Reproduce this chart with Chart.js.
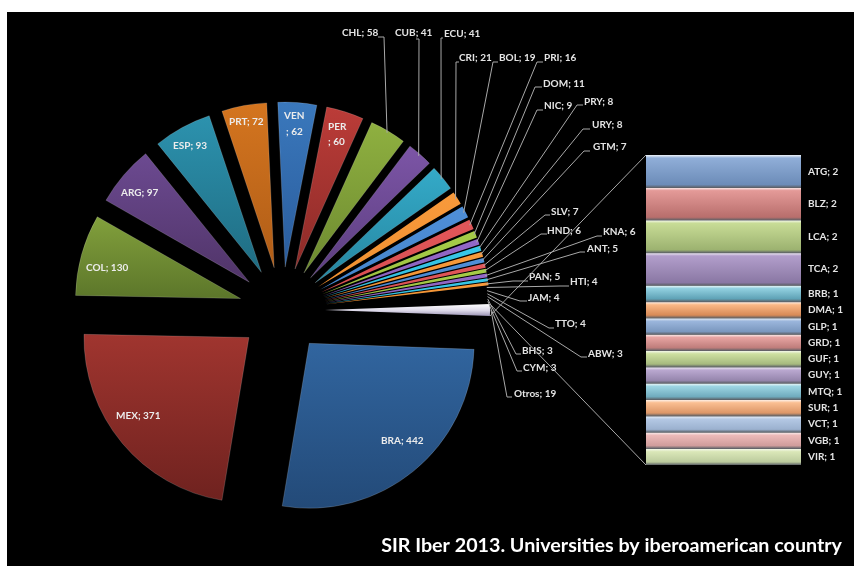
<!DOCTYPE html>
<html><head><meta charset="utf-8">
<script src="https://cdn.jsdelivr.net/npm/chart.js@4"></script>
<style>
html,body{margin:0;padding:0;background:#fff;width:854px;height:566px;overflow:hidden}
#bg{position:absolute;left:7px;top:12px;width:847px;height:554px;background:#000}
canvas{position:absolute;left:0;top:0;filter:blur(0.35px)}
</style></head><body>
<div id="bg"></div>
<canvas id="pie" width="854" height="566"></canvas>
<canvas id="bar" width="854" height="566"></canvas>
<script>
// ---- data ----
const pieCodes = ["BRA","MEX","COL","ARG","ESP","PRT","VEN","PER","CHL","CUB","ECU","CRI","BOL","PRI","DOM","NIC","PRY","URY","GTM","SLV","HND","KNA","ANT","PAN","HTI","JAM","TTO","ABW","BHS","CYM","Otros"];
const pieValues = [442,371,130,97,93,72,62,60,58,41,41,21,19,16,11,9,8,8,7,7,6,6,5,5,4,4,4,3,3,3,19];
const otherCodes = ["ATG","BLZ","LCA","TCA","BRB","DMA","GLP","GRD","GUF","GUY","MTQ","SUR","VCT","VGB","VIR"];
const otherValues = [2,2,2,2,1,1,1,1,1,1,1,1,1,1,1];
const titleText = "SIR Iber 2013. Universities by iberoamerican country";

// ---- styles / layout ----
const palette = [["#31659f","#234a78"],["#a0352f","#6f221f"],["#82a03c","#5c762a"],["#6c4a91","#503468"],["#2c92ae","#1f6c82"],["#d4751f","#b05d17"]];
const midPalette = [["#3a78bc","#2a5c9c"],["#bb3c38","#8c2b28"],["#8fb040","#6d8a30"],["#7c55a6","#5c3e80"],["#34aac8","#2686a0"],["#f08a2c","#d0701c"]];
const thinPalette = [["#4f8fd8","#4585cc"],["#e2575a","#d84e50"],["#a6cc48","#9cc040"],["#9368c8","#8a60bc"],["#38c8e8","#30bcdc"],["#f89a3c","#f09030"]];
const lightPalette = [["#90aed8","#6c8cb8"],["#e49a98","#b86e6c"],["#c8dc96","#9cb270"],["#b29ecb","#8a78a4"],["#92d0e0","#5fa2b6"],["#f9b886","#d88a56"]];
const invisibleFrom = 24, invisibleTo = 29; // thin slices that the reference renders as nothing
const leaderTextColor = "#e4e4e4", lineColor = "#a8a8a8";
const labelFont = "bold 10px Lato";
const EXPLODE = 43, RADIUS = 165;
// inside labels: index -> lines [x, y, text]
const insideLabels = {
  0:[[381,441,"BRA; 442"]],1:[[116,416,"MEX; 371"]],2:[[86,268,"COL; 130"]],3:[[121,193,"ARG; 97"]],
  4:[[173,146,"ESP; 93"]],5:[[229,122,"PRT; 72"]],6:[[284,116,"VEN"],[286,132,"; 62"]],7:[[328,127,"PER"],[328,142,"; 60"]]
};
// outside labels: code -> [text x, text y, elbow x1, elbow x2, elbow y]
const outsideLabels = {
  CHL:[342,33,378,384,37],CUB:[395,33,416,419,39],ECU:[444,34,443,441,38],CRI:[459,58,459,456,62],
  BOL:[499,58,498,493,62],PRI:[544,58,543,537,62],DOM:[543,84,542,535,87],NIC:[544,106,543,537,110],
  PRY:[584,102,583,577,105],URY:[592,125,590,583,129],GTM:[593,147,590,584,151],SLV:[551,212,550,545,215],
  HND:[547,231,547,541,234],KNA:[603,232,602,597,236],ANT:[587,249,585,580,252],PAN:[529,277,528,513,281],
  HTI:[570,282,569,560,286],JAM:[528,298,527,520,301],TTO:[555,324,554,549,328],ABW:[588,354,587,581,357],
  BHS:[522,351,521,516,354],CYM:[523,368,522,517,371],Otros:[514,394,512,507,397]
};

function sliceGeom(i){
  const total=pieValues.reduce((a,b)=>a+b,0);
  const otrosHalf=pieValues[pieValues.length-1]/total*Math.PI;
  let s=otrosHalf; for(let k=0;k<i;k++) s+=pieValues[k]/total*2*Math.PI;
  return [s,s+pieValues[i]/total*2*Math.PI];
}
function tierColors(i){
  const t=i<6?palette:(i<11?midPalette:thinPalette);
  return t[i%6];
}
function sliceGradient(ctx,stops){
  const {chart,dataIndex:i}=ctx;
  const a=chart.chartArea; if(!a) return stops[0][1];
  const cy=(a.top+a.bottom)/2;
  const [s,e]=sliceGeom(i), m=(s+e)/2;
  const ax=cy+Math.sin(m)*EXPLODE;
  let ys=[ax,ax+Math.sin(s)*RADIUS,ax+Math.sin(e)*RADIUS];
  if(s<Math.PI/2&&e>Math.PI/2) ys.push(ax+RADIUS);
  if(s<1.5*Math.PI&&e>1.5*Math.PI) ys.push(ax-RADIUS);
  const g=chart.ctx.createLinearGradient(0,Math.min(...ys),0,Math.max(...ys));
  stops.forEach(st=>g.addColorStop(st[0],st[1]));
  return g;
}
function isHidden(i){return i>=invisibleFrom&&i<=invisibleTo;}
function fillFor(c){
  const i=c.dataIndex;
  if(isHidden(i)) return "rgba(0,0,0,0)";
  if(i===pieValues.length-1) return sliceGradient(c,[[0,"#ffffff"],[0.55,"#dcd8e8"],[1,"#9a92b4"]]);
  const p=tierColors(i);
  return sliceGradient(c,[[0,p[0]],[1,p[1]]]);
}

const pieLabelPlugin={
  id:'pieLabels',
  afterDatasetsUpdate(chart){
    chart.getDatasetMeta(0).data.forEach(arc=>{
      const m=(arc.startAngle+arc.endAngle)/2;
      arc.x+=Math.cos(m)*EXPLODE; arc.y+=Math.sin(m)*EXPLODE;
    });
  },
  afterDatasetsDraw(chart){
    const c=chart.ctx, arcs=chart.getDatasetMeta(0).data;
    c.save(); c.font=labelFont; c.textBaseline='middle'; c.textAlign='left';
    pieCodes.forEach((code,i)=>{
      const arc=arcs[i], txt=code+"; "+pieValues[i];
      if(insideLabels[i]){
        c.fillStyle="#ececec";
        insideLabels[i].forEach(l=>c.fillText(l[2],l[0],l[1]));
        return;
      }
      const o=outsideLabels[code]; if(!o) return;
      const m=(arc.startAngle+arc.endAngle)/2;
      const r=code==="Otros"?RADIUS+1:RADIUS-2;
      c.strokeStyle=lineColor;c.lineWidth=1;
      c.beginPath();c.moveTo(arc.x+Math.cos(m)*r,arc.y+Math.sin(m)*r);
      c.lineTo(o[3],o[4]);c.lineTo(o[2],o[4]);c.stroke();
      c.fillStyle=leaderTextColor;c.fillText(txt,o[0],o[1]);
    });
    c.font="bold 19.7px Lato";c.fillStyle="#fff";c.textAlign='right';
    c.fillText(titleText,842,546);
    c.restore();
  }
};

const pieChart=new Chart(document.getElementById('pie'),{
  type:'pie',
  data:{labels:pieCodes,datasets:[{data:pieValues,
    backgroundColor:fillFor,
    borderColor:c=>c.dataIndex<11?"rgba(255,255,255,0.16)":"rgba(0,0,0,0)",
    borderWidth:c=>c.dataIndex<11?1:0,
    radius:RADIUS}]},
  options:{responsive:false,animation:false,events:[],rotation:90+(19/1632*180),
    layout:{padding:{left:0,right:290,top:54,bottom:0}},
    plugins:{legend:{display:false},tooltip:{enabled:false},title:{display:false}}},
  plugins:[pieLabelPlugin]
});

function mixWhite(hex,t){
  const n=parseInt(hex.slice(1),16);
  const f=v=>Math.round(v+(255-v)*t);
  return `rgb(${f(n>>16)},${f((n>>8)&255)},${f(n&255)})`;
}
function barGradient(ctx){
  const {chart,datasetIndex:i}=ctx, y=chart.scales&&chart.scales.y;
  const p=lightPalette[(i)%6];
  const m=i<6?0:(i<12?0.1:0.32);
  if(!y||y.top===undefined) return p[0];
  let base=0; for(let k=0;k<i;k++) base+=otherValues[k];
  const t=y.getPixelForValue(base), b=y.getPixelForValue(base+otherValues[i]);
  const h=b-t, f=3/h;
  const g=chart.ctx.createLinearGradient(0,t,0,b);
  g.addColorStop(0,mixWhite(p[0],0.85)); g.addColorStop(f,mixWhite(p[0],m)); g.addColorStop(1-f,mixWhite(p[1],m));
  g.addColorStop(1,"#5c6066");
  return g;
}
const barLabelPlugin={
  id:'barLabels',
  afterDatasetsDraw(chart){
    const c=chart.ctx,a=chart.chartArea,y=chart.scales.y;
    c.save();
    // connector lines from the Otros slice to the stacked bar
    const arc=pieChart.getDatasetMeta(0).data[30];
    c.strokeStyle=lineColor;c.lineWidth=1;c.beginPath();
    c.moveTo(arc.x+Math.cos(arc.endAngle)*RADIUS,arc.y+Math.sin(arc.endAngle)*RADIUS);c.lineTo(a.left,a.top);
    c.moveTo(arc.x+Math.cos(arc.startAngle)*RADIUS,arc.y+Math.sin(arc.startAngle)*RADIUS);c.lineTo(a.left,a.bottom);
    c.stroke();
    c.font=labelFont;c.fillStyle=leaderTextColor;c.textBaseline='middle';c.textAlign='left';
    let base=0;
    otherCodes.forEach((code,i)=>{
      const yc=y.getPixelForValue(base+otherValues[i]/2);
      c.fillText(code+"; "+otherValues[i],a.right+7,yc);
      base+=otherValues[i];
    });
    c.restore();
  }
};
const barChart=new Chart(document.getElementById('bar'),{
  type:'bar',
  data:{labels:["Otros"],datasets:otherCodes.map((code,i)=>({label:code,data:[otherValues[i]],backgroundColor:barGradient,borderWidth:0,
    barPercentage:1,categoryPercentage:1}))},
  options:{responsive:false,animation:false,events:[],
    layout:{padding:{left:646,right:53,top:155,bottom:101}},
    scales:{x:{stacked:true,display:false,offset:true},y:{stacked:true,display:false,reverse:true,min:0,max:19}},
    plugins:{legend:{display:false},tooltip:{enabled:false}}},
  plugins:[barLabelPlugin]
});
</script>
</body></html>
